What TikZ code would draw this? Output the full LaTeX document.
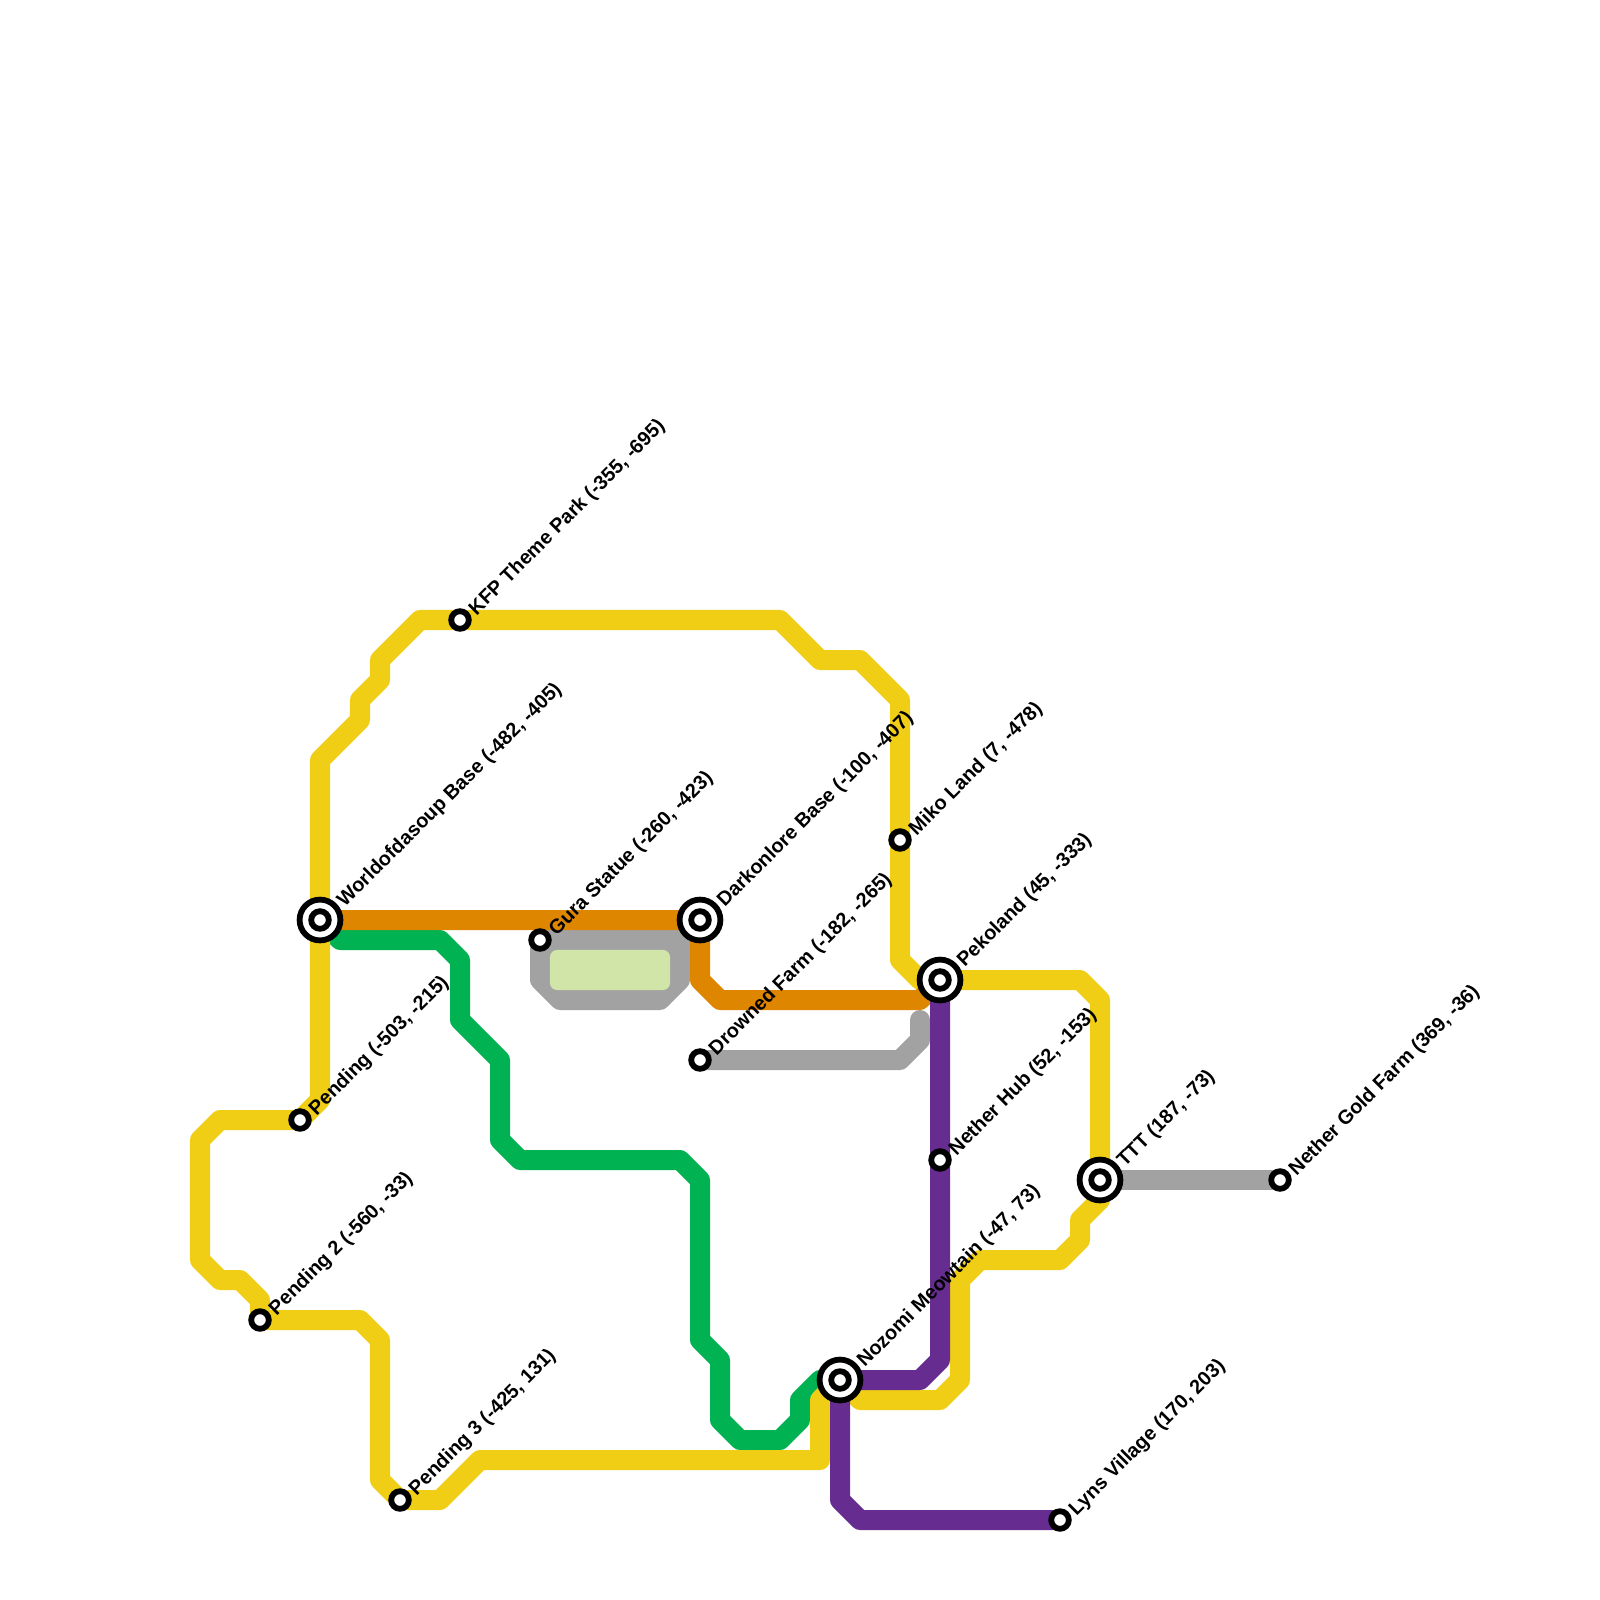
\documentclass[tikz,border=0pt]{standalone}
\usepackage{fontspec}
\setmainfont{Liberation Sans}
\usepackage{xcolor}
\usetikzlibrary{backgrounds}
\definecolor{lineyellow}{HTML}{F0CE15}
\definecolor{lineorange}{HTML}{DF8600}
\definecolor{linegreen}{HTML}{00B251}
\definecolor{linegray}{HTML}{A2A2A2}
\definecolor{linepurple}{HTML}{662C90}
\definecolor{parkgreen}{HTML}{D0E5A7}
\begin{document}
\begin{tikzpicture}[
      x=0.01cm, y=-0.01cm,
      station/.style={circle, draw=black, fill=white, line width=0.058cm, inner sep=0pt, minimum size=0.176cm},
      hub/.style={circle, draw=black, fill=white, line width=0.058cm, inner sep=0pt, minimum size=0.408cm},
      stop/.style={label={[rotate=45, yshift=-0.06cm, anchor=west, inner sep=0pt, label distance=0.03cm, font=\fontsize{5.65pt}{6pt}\selectfont\bfseries]45:#1}},
      metro/.style={line width=0.2cm, line cap=round, line join=round},
      park/.style={rounded corners=0.07cm, fill=parkgreen, inner sep=0pt, minimum width=1.2cm, minimum height=0.4cm}
    ]
    \useasboundingbox (0,0) rectangle (1600,1600);
    % Interchange stations, a ring round a small station
    \node[hub, stop={Worldofdasoup Base (-482, -405)}] (wds) at (320,920) {};
    \node[station] (wdscore) at (wds) {};
    \node[hub, stop={Darkonlore Base (-100, -407)}] (dark) at (700,920) {};
    \node[station] (darkcore) at (dark) {};
    \node[hub, stop={Pekoland (45, -333)}] (peko) at (940,980) {};
    \node[station] (pekocore) at (peko) {};
    \node[hub, stop={TTT (187, -73)}] (ttt) at (1100,1180) {};
    \node[station] (tttcore) at (ttt) {};
    \node[hub, stop={Nozomi Meowtain (-47, 73)}] (nozomi) at (840,1380) {};
    \node[station] (nozomicore) at (nozomi) {};
    % Plain stations
    \node[station, stop={KFP Theme Park (-355, -695)}] (kfp) at (460,620) {};
    \node[station, stop={Gura Statue (-260, -423)}] (gura) at (540,940) {};
    \node[station, stop={Miko Land (7, -478)}] (miko) at (900,840) {};
    \node[station, stop={Drowned Farm (-182, -265)}] (drowned) at (700,1060) {};
    \node[station, stop={Pending (-503, -215)}] (pend) at (300,1120) {};
    \node[station, stop={Pending 2 (-560, -33)}] (pendtwo) at (260,1320) {};
    \node[station, stop={Pending 3 (-425, 131)}] (pendthree) at (400,1500) {};
    \node[station, stop={Nether Hub (52, -153)}] (nether) at (940,1160) {};
    \node[station, stop={Nether Gold Farm (369, -36)}] (gold) at (1280,1180) {};
    \node[station, stop={Lyns Village (170, 203)}] (lyns) at (1060,1520) {};
    \begin{scope}[on background layer]
      % Green line
      \draw[metro, linegreen] (wds.center) -- (340,940) -- (440,940) -- (460,960) -- (460,1020) -- (500,1060) -- (500,1140) -- (520,1160) -- (680,1160) -- (700,1180) -- (700,1340) -- (720,1360) -- (720,1420) -- (740,1440) -- (780,1440) -- (800,1420) -- (800,1400) -- (820,1380) -- (nozomi.center);
      % Gray lines and the park they surround
      \draw[metro, linegray, fill=linegray] (gura.center) -- (540,980) -- (560,1000) -- (660,1000) -- (680,980) -- (680,940) -- cycle;
      \draw[metro, linegray] (680,940) -- (dark.center);
      \node[park] (gurapark) at (610,970) {};
      \draw[metro, linegray] (drowned.center) -- (900,1060) -- (920,1040) -- (920,1020);
      \draw[metro, linegray] (ttt.center) -- (gold.center);
      % Yellow line, round the whole map
      \draw[metro, lineyellow] (nozomi.center) -- (820,1400) -- (820,1460) -- (480,1460) -- (440,1500) -- (pendthree.center) -- (380,1480) -- (380,1340) -- (360,1320) -- (pendtwo.center);
      \draw[metro, lineyellow] (pendtwo.center) -- (260,1300) -- (240,1280) -- (220,1280) -- (200,1260) -- (200,1140) -- (220,1120) -- (pend.center) -- (320,1100) -- (wds.center) -- (320,760) -- (360,720) -- (360,700) -- (380,680) -- (380,660) -- (420,620) -- (kfp.center) -- (780,620) -- (820,660) -- (860,660) -- (900,700) -- (miko.center) -- (900,960) -- (920,980) -- (peko.center);
      \draw[metro, lineyellow] (peko.center) -- (1080,980) -- (1100,1000) -- (ttt.center) -- (1100,1200) -- (1080,1220) -- (1080,1240) -- (1060,1260) -- (980,1260) -- (960,1280) -- (960,1380) -- (940,1400) -- (860,1400) -- (nozomi.center);
      % Orange line
      \draw[metro, lineorange] (wds.center) -- (dark.center) -- (700,980) -- (720,1000) -- (920,1000) -- (peko.center);
      % Purple line
      \draw[metro, linepurple] (peko.center) -- (nether.center) -- (940,1360) -- (920,1380) -- (nozomi.center) -- (840,1500) -- (860,1520) -- (lyns.center);
    \end{scope}
  \end{tikzpicture}
\end{document}
